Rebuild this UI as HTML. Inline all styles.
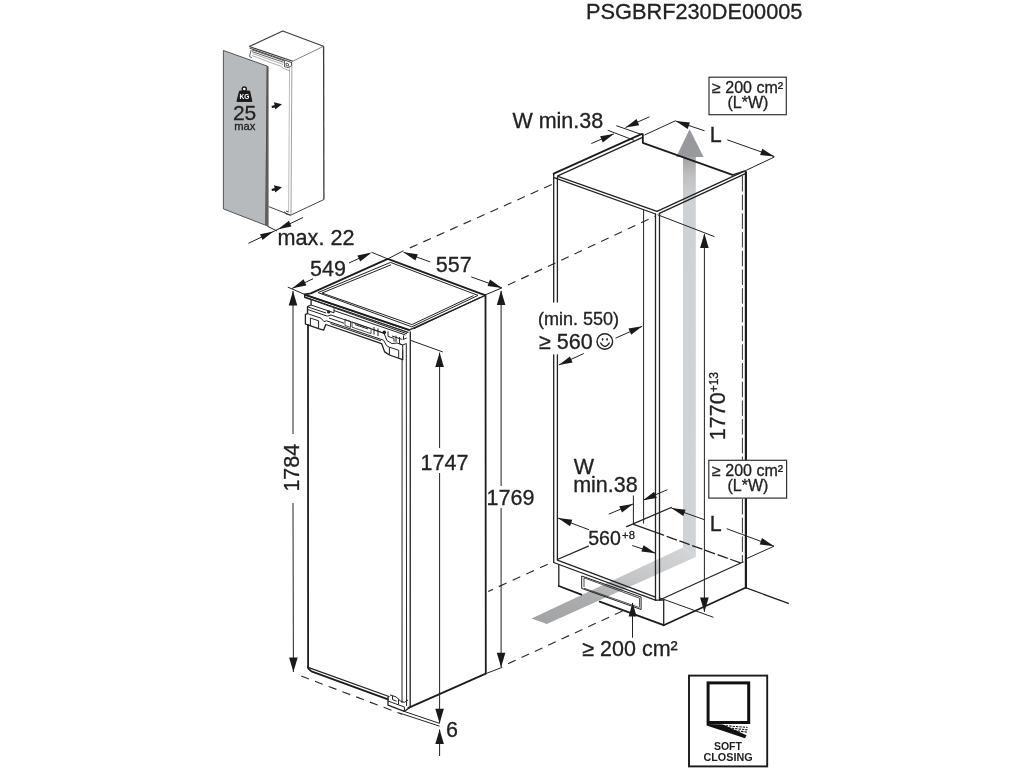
<!DOCTYPE html>
<html><head><meta charset="utf-8">
<style>
html,body{margin:0;padding:0;background:#fff;}
body{width:1024px;height:768px;overflow:hidden;font-family:"Liberation Sans",sans-serif;}
svg{display:block;will-change:transform;}
text{font-family:"Liberation Sans",sans-serif;fill:#222;stroke:#222;stroke-width:0.3;}
.l{stroke:#222;stroke-width:1.3;fill:none;stroke-linecap:round;stroke-linejoin:round;}
.l2{stroke:#1c1c1c;stroke-width:1.8;fill:none;stroke-linecap:round;stroke-linejoin:round;}
.t{stroke:#222;stroke-width:1;fill:none;}
.d{stroke:#2a2a2a;stroke-width:1.15;fill:none;stroke-dasharray:8.3 6.4;}
.g{stroke:#888;stroke-width:0.8;fill:none;}
.s{stroke:#3a3a3a;stroke-width:0.95;fill:none;stroke-linejoin:round;}
.a{fill:#1a1a1a;stroke:none;}
</style></head><body>
<svg width="1024" height="768" viewBox="0 0 1024 768">
<rect width="1024" height="768" fill="#fff"/>
<!--TITLE-->
<text x="586" y="19.4" font-size="21.75">PSGBRF230DE00005</text>
<g id="small">
<!-- fridge body -->
<path class="s" d="M249.3 46.5 L282.7 31 L323.5 46.3" style="stroke-width:1.15"/>
<path class="s" d="M323.5 46.3 L292.9 61.2" style="stroke:#666;stroke-width:.8"/>
<path class="s" d="M249.3 46.5 L292.9 61.2" style="stroke-width:1.2"/>
<path class="s" d="M323.6 46.3 L323.9 199.5" style="stroke-width:1.3"/>
<path class="s" d="M323.9 199.5 L290.6 215.2 L268.7 206.6"/>
<path class="g" d="M291.9 62.6 L291 215"/>
<path class="g" d="M289.6 66.7 L288.6 212.5" style="stroke:#aaa"/>
<path class="s" d="M249.7 48.2 L291.9 62.6"/>
<path class="s" d="M252 49.8 L284.5 60.9 M252 51.6 L283.6 62.3" style="stroke-width:.8"/>
<path class="s" d="M251.1 50 L249.5 56.5 L252 57.9" style="stroke-width:.8"/>
<path class="g" d="M252 55.6 L280.8 66.3 Q282.5 68 283.6 68.6 L290 70.9" style="stroke:#999"/>
<path class="g" d="M253 53.6 L283 64.4" style="stroke:#999"/>
<path class="s" d="M284.5 60.7 L284.5 66.7 L288.2 67.7 L291.5 65.8 L291.5 62.6 M286 63 L288.6 64 L288.6 66.2 L286 65.3 Z" style="stroke-width:.8"/>
<path class="s" d="M284.5 211.5 L286 214 L290.6 215.2 M286 211 L288.5 212"/>
<!-- door panel -->
<path d="M223.4 50.5 L267.2 66.1 L265.8 225.3 L223.4 208.9 Z" fill="#b7babd" stroke="#555" stroke-width="1"/>
<path d="M267.2 66.1 L268.2 66.6 L268.2 226.6 L265.8 225.3 Z" fill="#666" stroke="#444" stroke-width="0.6"/>
<!-- weight icon -->
<path d="M239.6 91 L249.6 91 L251.9 101.4 L236.9 101.4 Z" fill="#1a1a1a" stroke="#1a1a1a" stroke-width="1" stroke-linejoin="round"/>
<circle cx="244.3" cy="89" r="2" fill="#fff" stroke="#1a1a1a" stroke-width="1.4"/>
<text x="244.4" y="99.9" font-size="6.6" font-weight="bold" text-anchor="middle" style="fill:#fff;stroke:none" dy="-0.5">KG</text>
<text x="244.6" y="120.1" font-size="21" text-anchor="middle">25</text>
<text x="244.7" y="129.8" font-size="11.2" text-anchor="middle">max</text>
<!-- small arrows -->
<path class="a" d="M271.5 106 L274.7 105.1 L273.8 102.3 L282 104.2 L275.2 109.6 L274.7 107.4 L272 107.9 Z"/>
<path class="a" d="M271.5 189 L274.7 188.1 L273.8 185.3 L282 187.2 L275.2 192.6 L274.7 190.4 L272 190.9 Z"/>
<!-- max 22 dimension -->
<path class="t" d="M248.4 243.3 L303.1 217.5"/>
<path class="t" d="M268 226.5 L277 231"/>
<path class="a" d="M273.4 231.6 L262.5 240 L260 234.2 Z"/>
<path class="a" d="M278 229.2 L288.9 220.8 L291.4 226.6 Z"/>
<text x="277.6" y="244.5" font-size="21.6">max. 22</text>
</g>
<g id="big">
<!-- top face -->
<path class="l2" d="M304.7 294.4 L310.8 293.4 L387.8 258.9 L484.8 295.1"/>
<path class="l" d="M484.8 295.6 L409 330.2 L304.8 294.8"/>
<path class="t" d="M318 292.6 L390.5 262.4 L478 295.4 L411.7 326.8 Z"/>
<path class="t" d="M391 264.8 L322 293 L411.9 324.6 L473.5 295.6"/>
<path class="t" d="M479.8 297.6 L413.7 328.9"/>
<!-- right body -->
<path class="l2" d="M485.5 295.5 L485.8 673.6 L408.4 707.9"/>
<!-- front lip / bracket -->
<path class="l2" d="M304.7 294.6 L408.9 329.9"/>
<path class="l" d="M304.7 294.6 L304.7 297.4 L311.1 299.6 L311.1 305 L307.5 306.5 L307.5 313.6 L305.4 314.4 L305.4 324 L308.6 325.1 L318.6 328.7 L323.7 330.1 L325.8 324.5 L381.6 343.6 L384.7 351.9 L389.4 355 L402.7 359.7 L402.7 351"/>
<path class="l" d="M304.7 297 L408 332.3"/>
<path class="t" d="M311.1 299.6 L407 333.8"/>
<path class="t" d="M311.1 305 L334 312.8 L334 308.3"/>
<path class="t" d="M307.5 306.8 L326 313 M308 309.6 L327.5 316.2 L331 315 L384 333.2"/>
<path class="t" d="M334 310.6 L392 330.4 L405.5 335"/>
<path class="t" d="M310.4 318 L318.6 320.8 L318.6 328 M310.4 318 L310.4 325.5 M307.5 313.6 L321 318.2 L324 321.6 L326.5 320.8"/>
<path class="t" d="M326.5 320.8 L383.5 340.2 M329 318 L344 323.2 M330.5 323.6 L381 340.8"/>
<path class="t" d="M345 319.5 L345 325.5 L350.5 327.4 L350.5 321.4 Z M352 322 L371 328.5 L371 333.6 L352 327.2 Z" style="stroke-width:.8"/>
<path class="t" d="M355 324.6 L368 329 M372 329.2 L383 333 M374 327 L374 334.6 M378 328.4 L378 336"/>
<path class="t" d="M383.5 340.2 L386.5 345.5 L389.4 347.2 L398.7 350.3 L398.7 357.6 M389.4 347.2 L389.4 354.6"/>
<path class="t" d="M384 333.2 L387 340.6 L392 343.6 L397 343 L402.7 345 L406.6 343.4"/>
<path class="t" d="M388 331.4 L388 336.4 L394 338.4 L394 341.6 M396 335.6 L396 342 M399.5 337 L399.5 343.6 L402.7 345 L402.7 351 M392 336 L402 339.4"/>
<circle cx="328.7" cy="311.9" r="1.7" fill="#222"/><circle cx="384.3" cy="332.4" r="1.8" fill="#222"/>
<path class="t" d="M402.7 339.6 L406.6 338.2 M403.5 335.5 L403.5 339"/>
<!-- door edges -->
<path class="l2" d="M308 325 L308.1 667.3"/>
<path class="t" d="M402.1 359 L402 703"/>
<path class="t" d="M406.3 344 L406.6 706"/>
<path class="l" d="M410.3 332 L410.2 707"/>
<!-- bottom -->
<path class="l" d="M308.1 667.3 L389 696.5"/>
<path class="l2" d="M308.1 667.3 L308.4 668.6 L311.4 671.4 L388 699.3"/>
<path class="l" d="M388 696.9 L388 705.1 L404.4 711.3 L409.2 707.9"/>
<path class="t" d="M388 701 L404.4 707 L404.4 711 M390 694.9 L396.2 696.9 L400.3 701 L404.4 702.4 L408 700 M392.5 696 L392.5 699.6 L396.5 701.2 M398.5 699.5 L398.5 704.5"/>
<!-- dimension 549 -->
<path class="t" d="M305.6 294.8 L287.8 287.1"/>
<path class="t" d="M387.8 258.9 L371.6 252.3"/>
<path class="t" d="M292 288.5 L313 278.8 M349 263 L369 253.7"/>
<path class="a" d="M292.2 288.3 L303.6 279.3 L306.4 285.5 Z"/>
<path class="a" d="M371.6 252.6 L360.2 261.6 L357.4 255.4 Z"/>
<text x="310" y="275.7" font-size="21.5">549</text>
<!-- dimension 557 -->
<path class="t" d="M387.8 258.9 L403.5 250.7"/>
<path class="t" d="M484.8 295.1 L501.9 287.9"/>
<path class="t" d="M403.5 252.3 L430.2 261.9 M471.2 276.9 L501.9 287.9"/>
<path class="a" d="M403.5 252.3 L417.8 254.2 L415.4 260.6 Z"/>
<path class="a" d="M501.9 287.9 L487.6 286 L490 279.6 Z"/>
<text x="435.8" y="272.1" font-size="21.5">557</text>
<!-- dimension 1784 -->
<path class="t" d="M293 291 L293 434 M293 503 L293.4 672"/>
<path class="a" d="M293 291 L297.3 305.5 L288.7 305.5 Z"/>
<path class="a" d="M293.4 672 L297.7 657.5 L289.1 657.5 Z"/>
<text transform="translate(298.6 491.6) rotate(-90)" font-size="21.5">1784</text>
<!-- dimension 1747 -->
<path class="t" d="M411 340.5 L442.7 351.9"/>
<path class="t" d="M439.6 352.6 L439.6 448 M439.6 473 L439.6 723"/>
<path class="a" d="M439.6 352.6 L443.9 367.1 L435.3 367.1 Z"/>
<path class="a" d="M439.6 723.2 L443.9 708.7 L435.3 708.7 Z"/>
<text x="420.6" y="469.8" font-size="21.5">1747</text>
<!-- dimension 1769 -->
<path class="t" d="M501.1 291 L501.1 486 M501.1 508 L501.1 667"/>
<path class="a" d="M501.1 290.4 L505.4 304.9 L496.8 304.9 Z"/>
<path class="a" d="M501.1 667.3 L505.4 652.8 L496.8 652.8 Z"/>
<path class="t" d="M485.8 673.6 L502.3 667.3"/>
<text x="486.6" y="505" font-size="21.5">1769</text>
<!-- dimension 6 -->
<path class="t" d="M399.5 713 L439.6 726.2 M403 711 L439.6 723.4"/>
<path class="t" d="M439.6 729.5 L439.6 756"/>
<path class="a" d="M439.6 729.5 L443.9 744 L435.3 744 Z"/>
<text x="446" y="737.2" font-size="21.5">6</text>
<!-- dashed -->
<path class="d" d="M301.2 676 L402 714.3"/>
</g>
<g id="cab">
<defs>
<linearGradient id="gv" x1="0" y1="0" x2="0" y2="1"><stop offset="0" stop-color="#a2a4a6"/><stop offset="0.05" stop-color="#bfc1c3"/><stop offset="0.11" stop-color="#cfd2d4"/><stop offset="1" stop-color="#d1d4d6"/></linearGradient>
<linearGradient id="gd" x1="1" y1="0" x2="0" y2="1"><stop offset="0" stop-color="#d4d6d8"/><stop offset="0.4" stop-color="#c4c6c8"/><stop offset="0.65" stop-color="#abadaf"/><stop offset="1" stop-color="#a0a2a4"/></linearGradient>
</defs>
<!-- grey arrow -->
<path d="M683 157 L695.8 157 L695.8 557 L683 547.5 Z" fill="url(#gv)"/>
<path d="M683 547.5 L695.8 557 L546.8 623.9 L531.5 618.4 Z" fill="url(#gd)"/>
<path d="M689.6 129.3 L703.6 157 L676.2 157 Z" fill="#97999c"/>
<!-- dashed connectors -->
<path class="d" d="M409.9 247.85 L554.4 183.4"/>
<path class="d" d="M507.9 285.1 L655 216.3"/>
<path class="d" d="M547.75 564.2 L488.2 591.5" style="stroke-dasharray:8.5 6.6"/>
<path class="d" d="M508.1 663.7 L626.2 609.3"/>
<!-- top -->
<path class="l2" d="M553.7 173.6 L641.9 133.9"/>
<path class="l" d="M557.8 175.8 L642.6 137.4"/>
<path class="l2" d="M642.8 134.2 L642.8 142.8 L732.5 174.9"/>
<path class="l" d="M557.8 176.3 L657 211.4"/>
<path class="l" d="M554 177.6 L655.6 214"/>
<path class="l" d="M657 211.4 L744.3 171.2"/>
<path class="l" d="M659.4 213.4 L745.4 173.6"/>
<path class="l" d="M732.5 174.9 L744.3 171.2"/>
<!-- verticals -->
<path class="l" d="M553.7 173.6 L553.7 302 M553.7 354.8 L553.7 561.9"/>
<path class="l" d="M557.4 177 L557.4 302 M557.4 354.8 L557.4 559.5"/>
<path class="t" d="M643.6 210 L643.6 523.6"/>
<path class="l" d="M655.5 214 L655.5 600"/>
<path class="l" d="M659.5 213.4 L659.5 600"/>
<path class="l2" d="M745.9 172 L745.9 460 M745.9 498.5 L745.9 587.7" style="stroke-width:2.2"/>
<path d="M742.4 176 L742.4 460 M742.4 499 L742.4 562" stroke="#333" stroke-width="1" fill="none" stroke-dasharray="15.5 3.2"/>
<!-- floor -->
<path class="l" d="M557.4 559.5 L588.4 546.2 M626.7 526.7 L671.3 507.5"/>
<path class="l" d="M633.6 524.3 L663.6 535.2"/><path class="d" d="M666.7 536.4 L741.2 563.2" style="stroke:#222;stroke-width:1.3;stroke-dasharray:10.9 2.6"/>
<path class="l" d="M553.6 562.5 L656 600.4"/>
<path class="l" d="M557.4 560.2 L655.5 597.2"/>
<path class="l" d="M659.5 600 L743 562"/>
<!-- plinth -->
<path class="l" d="M558.8 565 L558.8 586"/><path class="l2" d="M558.8 586 L581.4 594.6"/><path class="l2" d="M599.7 601.7 L663.7 625.2"/>
<path class="l" d="M663.7 600 L663.7 625.2"/>
<path class="l" d="M655.9 600.2 L663.7 600.2"/>
<path class="l2" d="M663.7 625.2 L745.5 587.7"/>
<path class="l" d="M745.5 587.7 L788.4 603.3"/>
<!-- vent -->
<path class="t" d="M581.7 576 L581.7 588.4 L641.1 609.5 L641.1 597 Z"/>
<path class="t" d="M584 587 L584 577.8 L639.5 598.2 L639.5 607 M584 588.2 L639.5 607.6" style="stroke-width:.8"/>
<!-- W min.38 top -->
<path class="t" d="M607.7 130.2 L634.3 140.4 M616.3 125.7 L641.9 134.6"/>
<path class="t" d="M591.3 143.5 L613.8 133.9 M625.5 127.5 L649.4 116.8"/>
<path class="a" d="M613.8 133.9 L602.8 142.4 L600.1 136.2 Z"/>
<path class="a" d="M625.5 127.5 L636.5 119 L639.2 125.2 Z"/>
<text x="512.4" y="127.8" font-size="21.5">W min.38</text>
<!-- L top -->
<path class="t" d="M644.4 135.1 L675.6 120.7 M744.3 171.2 L774.4 157"/>
<path class="t" d="M675.6 121.1 L704.6 130.8 M727.2 139.8 L774.4 156.6"/>
<path class="a" d="M675.6 121.1 L689.9 122.6 L687.7 129 Z"/>
<path class="a" d="M774.4 156.6 L760.1 155.1 L762.3 148.7 Z"/>
<text x="709.8" y="141.6" font-size="21.5">L</text>
<!-- box top -->
<rect x="709" y="77.2" width="77.3" height="37.5" fill="#fff" stroke="#333" stroke-width="1.2"/>
<text x="747.6" y="92.8" font-size="16" text-anchor="middle">≥ 200 cm²</text>
<text x="747.9" y="107.7" font-size="16" text-anchor="middle">(L*W)</text>
<!-- 1770 dim -->
<path class="t" d="M657.5 214.7 L714.4 236.6"/>
<path class="t" d="M704.4 234 L704.4 611.9"/>
<path class="a" d="M704.4 233.6 L708.7 248.1 L700.1 248.1 Z"/>
<path class="a" d="M704.4 611.9 L708.7 597.4 L700.1 597.4 Z"/>
<path class="t" d="M659.5 597.8 L713.4 617.3"/>
<text transform="translate(724.7 440.2) rotate(-90)" font-size="21.5">1770<tspan font-size="12" dy="-6.5">+13</tspan></text>
<!-- min 550 -->
<text x="538" y="325.3" font-size="18">(min. 550)</text>
<text x="539" y="348.9" font-size="21.5">≥ 560</text>
<circle cx="604.8" cy="341.5" r="7.8" fill="none" stroke="#222" stroke-width="1.4"/>
<ellipse cx="602.6" cy="339.4" rx="0.8" ry="1.3" fill="#222"/><ellipse cx="607.1" cy="339.4" rx="0.8" ry="1.3" fill="#222"/>
<path d="M600.4 342.6 Q604.9 350.2 609.6 342.6" fill="none" stroke="#222" stroke-width="1.2"/>
<path class="t" d="M615.5 338.2 L642.2 326.3 M583.8 353.5 L558.9 364.9"/>
<path class="a" d="M642.2 326.3 L631.2 334.8 L628.5 328.6 Z"/>
<path class="a" d="M558.9 364.9 L569.9 356.4 L572.6 362.6 Z"/>
<!-- W min.38 bottom -->
<text x="573.8" y="473.6" font-size="21.5">W</text>
<text x="573.2" y="492.3" font-size="21.5">min.38</text>
<path class="t" d="M633.4 495.5 L633.4 523.6"/>
<path class="t" d="M608.7 514.2 L633 504 M643.1 500.2 L667.3 489.7"/>
<path class="a" d="M633 504 L622 512.5 L619.3 506.3 Z"/>
<path class="a" d="M643.1 500.2 L654.1 491.7 L656.8 497.9 Z"/>
<!-- 560+8 -->
<path class="t" d="M558 518.1 L589.2 529.8 M632.2 545.5 L655.6 553.3"/>
<path class="a" d="M558 518.1 L572.3 519.8 L570 526.2 Z"/>
<path class="a" d="M655.6 553.3 L641.3 551.6 L643.6 545.2 Z"/>
<text x="588.2" y="544.8" font-size="19.6">560<tspan font-size="11.3" dy="-5.6" dx="1.2">+8</tspan></text>
<!-- L bottom -->
<path class="t" d="M671.3 508 L704.4 519.7 M726.7 528.7 L774 546.2"/>
<path class="a" d="M671.3 508 L685.6 509.7 L683.3 516.1 Z"/>
<path class="a" d="M774 546.2 L759.7 544.5 L762 538.1 Z"/>
<path class="t" d="M774 546.2 L746.3 558.7"/>
<text x="709.8" y="531.4" font-size="21.5">L</text>
<!-- box bottom -->
<rect x="708.8" y="460.3" width="77.8" height="37.8" fill="#fff" stroke="#333" stroke-width="1.2"/>
<text x="747.6" y="475.7" font-size="16" text-anchor="middle">≥ 200 cm²</text>
<text x="747.9" y="490.6" font-size="16" text-anchor="middle">(L*W)</text>
<!-- 200 cm2 bottom -->
<path class="t" d="M632.5 603 L632.5 637.7"/>
<path class="a" d="M632.6 602.6 L636.6 616.4 L628.6 616.4 Z"/>
<text x="582.3" y="656.4" font-size="21.5">≥ 200 cm²</text>
</g>
<g id="icon">
<rect x="689" y="675.6" width="78.2" height="90.8" fill="#fff" stroke="#1a1a1a" stroke-width="1.9"/>
<rect x="708.1" y="682.9" width="40.6" height="39.6" fill="#fff" stroke="#111" stroke-width="3"/>
<path d="M706.6 724 L723 724.5 L746.5 735.3 L745 738.2 L706.6 725.6 Z" fill="#111"/>
<path d="M719 725.2 L747.5 727.4 M725 727.6 L747.5 729.8 M731 730 L747.5 732.2" stroke="#111" stroke-width="1.1" stroke-dasharray="2.4 1" fill="none"/>
<text x="727.9" y="750" font-size="10.5" font-weight="bold" text-anchor="middle" style="stroke:none">SOFT</text>
<text x="728" y="761" font-size="10.8" font-weight="bold" text-anchor="middle" style="stroke:none">CLOSING</text>
</g>
</svg>
</body></html>
